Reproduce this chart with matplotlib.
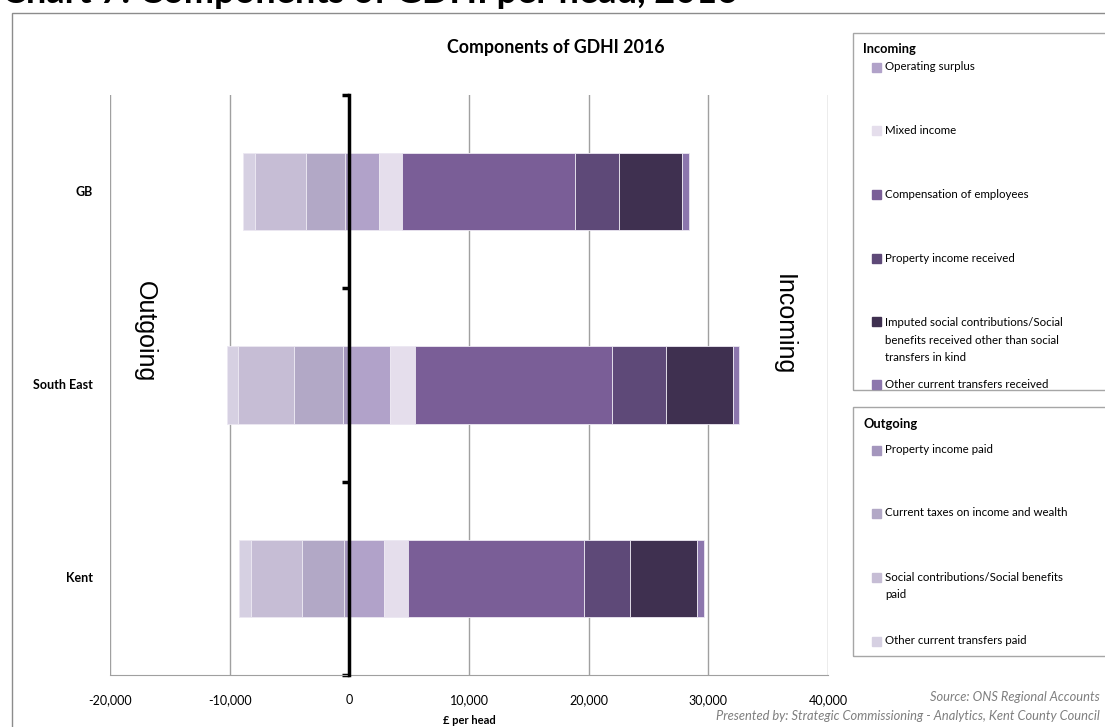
import matplotlib.pyplot as plt
from matplotlib.patches import Rectangle
from matplotlib.transforms import blended_transform_factory
import numpy as np

plt.rcParams['font.family'] = ['Lato', 'DejaVu Sans']

areas = ['GB', 'South East', 'Kent']

# incoming components, £ per head
incoming_names = ['Operating surplus', 'Mixed income', 'Compensation of employees',
                  'Property income received',
                  'Imputed social contributions/Social\nbenefits received other than social\ntransfers in kind',
                  'Other current transfers received']
operating_surplus = [2514, 3380, 2921]
mixed_income = [1927, 2085, 1975]
compensation = [14442, 16479, 14687]
property_received = [3631, 4507, 3866]
imputed_social = [5307, 5577, 5564]
other_received = [559, 564, 584]

# outgoing components, £ per head (negative)
outgoing_names = ['Property income paid', 'Current taxes on income and wealth',
                  'Social contributions/Social benefits\npaid', 'Other current transfers paid']
property_paid = [-335, -563, -417]
current_taxes = [-3296, -4029, -3505]
social_paid = [-4246, -4704, -4256]
other_paid = [-978, -929, -1029]

incoming = [operating_surplus, mixed_income, compensation, property_received,
            imputed_social, other_received]
outgoing = [property_paid, current_taxes, social_paid, other_paid]

in_colors = ['#b1a2c9', '#e5deec', '#7a5e97', '#5e4978', '#3f3050', '#8c76ad']
out_colors = ['#a496bd', '#b2a8c6', '#c6bdd5', '#d6d0e2']

W, H = 1105, 727
fig = plt.figure(figsize=(W / 100, H / 100), dpi=100)

def fx(px):
    return px / W

def fy(py):
    return 1 - py / H

ax = fig.add_axes([fx(110), fy(675), fx(828) - fx(110), fy(95) - fy(675)])

y = np.array([2, 1, 0])
left = np.zeros(3)
for vals, c in zip(incoming, in_colors):
    ax.barh(y, vals, left=left, height=0.4, color=c, edgecolor='#ece8f2', linewidth=0.6, zorder=2)
    left += np.array(vals)
left = np.zeros(3)
for vals, c in zip(outgoing, out_colors):
    ax.barh(y, vals, left=left, height=0.4, color=c, edgecolor='#ece8f2', linewidth=0.6, zorder=2)
    left += np.array(vals)

ax.set_xlim(-20000, 40000)
ax.set_ylim(-0.5, 2.5)
ax.set_xticks(np.arange(-20000, 40001, 10000))
ax.set_xticklabels([f'{v:,}' for v in range(-20000, 40001, 10000)], fontsize=9)
ax.tick_params(axis='x', length=0, pad=14)
ax.grid(axis='x', color='#a0a0a0', linewidth=1, zorder=0)
ax.set_axisbelow(True)

for s in ['top', 'right']:
    ax.spines[s].set_visible(False)
ax.spines['bottom'].set_color('#a0a0a0')
ax.spines['left'].set_position(('data', 0))
ax.spines['left'].set_linewidth(2.5)
ax.spines['left'].set_zorder(3)
ax.set_yticks([-0.5, 0.5, 1.5, 2.5])
ax.set_yticklabels([])
ax.tick_params(axis='y', length=5, width=2.5, direction='out')

trans = blended_transform_factory(ax.transAxes, ax.transData)
for yy, name in zip(y, areas):
    ax.text(-0.024, yy, name, transform=trans, ha='right', va='center',
            fontsize=9, fontweight='bold')

ax.set_xlabel('£ per head', fontsize=8, fontweight='bold', labelpad=6)

fig.text(fx(556), fy(47), 'Components of GDHI 2016', ha='center', va='center',
         fontsize=12.8, fontweight='bold')
fig.text(fx(145), fy(332), 'Outgoing', rotation=-90, ha='center', va='center',
         fontsize=18, family=['Liberation Sans', 'DejaVu Sans'])
fig.text(fx(784), fy(325), 'Incoming', rotation=-90, ha='center', va='center',
         fontsize=18, family=['Liberation Sans', 'DejaVu Sans'])

# headline sits mostly above the canvas
fig.text(fx(2), fy(3), 'Chart 7: Components of GDHI per head, 2016', ha='left',
         va='baseline', fontsize=26, fontweight='bold')

# outer chart border
fig.patches.append(Rectangle((fx(12), -0.05), 1.2, fy(13) + 0.05, transform=fig.transFigure,
                             fill=False, edgecolor='#8c8c8c', linewidth=1))

# legend boxes
fig.patches.append(Rectangle((fx(853), fy(390)), 1.0, fy(33) - fy(390),
                             transform=fig.transFigure, fill=False,
                             edgecolor='#a6a6a6', linewidth=1))
fig.patches.append(Rectangle((fx(853), fy(656)), 1.0, fy(407) - fy(656),
                             transform=fig.transFigure, fill=False,
                             edgecolor='#a6a6a6', linewidth=1))

def legend_group(title, title_y, names, colors, ys):
    fig.text(fx(863), fy(title_y), title, ha='left', va='center', fontsize=9.3, fontweight='bold')
    for name, c, yy in zip(names, colors, ys):
        fig.patches.append(Rectangle((fx(872), fy(yy + 4.5)), fx(9), 9 / H,
                                     transform=fig.transFigure, color=c))
        n_lines = name.count('\n') + 1
        # centre of the text block, first line sits at yy
        fig.text(fx(885), fy(yy + 9 * (n_lines - 1)), name, ha='left', va='center',
                 fontsize=8.3, linespacing=1.72)

legend_group('Incoming', 49, incoming_names, in_colors, [67, 130, 194, 258, 322, 385])
legend_group('Outgoing', 424, outgoing_names, out_colors, [450, 513, 577, 641])

fig.text(fx(1100), fy(697), 'Source: ONS Regional Accounts', ha='right', va='center',
         fontsize=9.3, style='italic', color='#7f7f7f')
fig.text(fx(1100), fy(716), 'Presented by: Strategic Commissioning - Analytics, Kent County Council',
         ha='right', va='center', fontsize=9.3, style='italic', color='#7f7f7f')

fig.savefig('out.png', dpi=100)
